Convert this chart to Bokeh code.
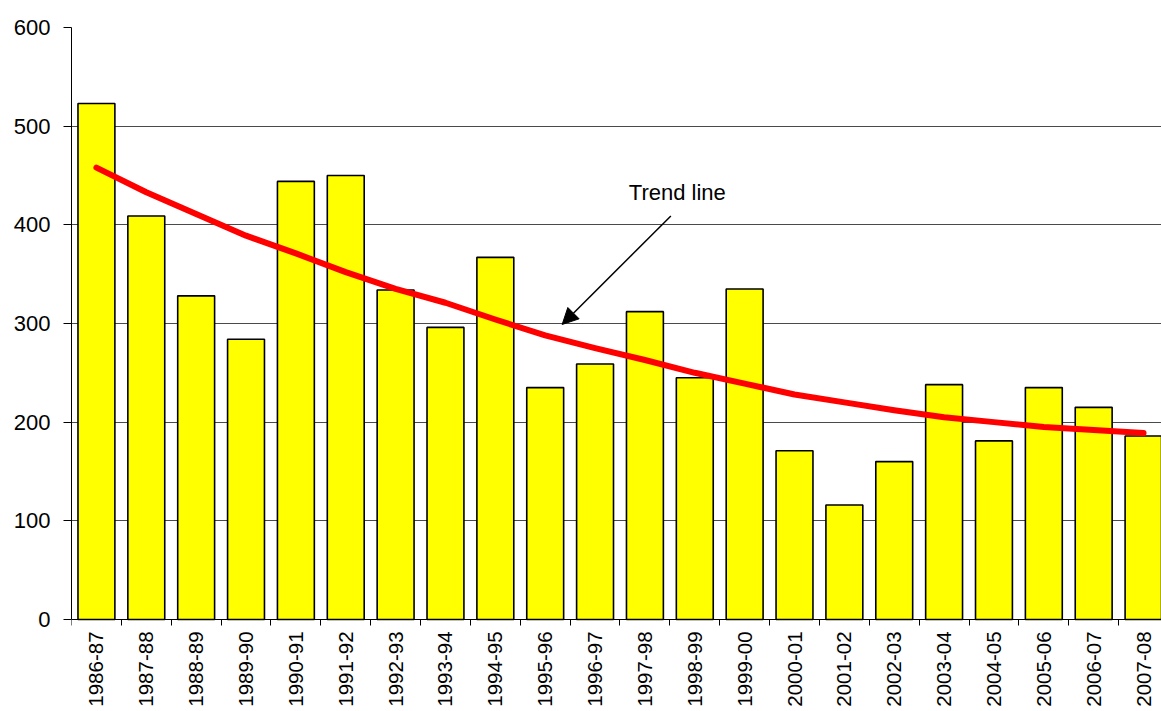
from bokeh.plotting import figure
from bokeh.models import Range1d, FixedTicker, Arrow, NormalHead, Label, ColumnDataSource
from bokeh.core.properties import value
from bokeh.embed import file_html
from bokeh.resources import INLINE
import math

# Seasons and yearly counts
seasons = ["1986-87", "1987-88", "1988-89", "1989-90", "1990-91", "1991-92",
           "1992-93", "1993-94", "1994-95", "1995-96", "1996-97", "1997-98",
           "1998-99", "1999-00", "2000-01", "2001-02", "2002-03", "2003-04",
           "2004-05", "2005-06", "2006-07", "2007-08"]
counts = [523, 409, 328, 284, 444, 450, 334, 296, 367, 235, 259, 312,
          245, 335, 171, 116, 160, 238, 181, 235, 215, 186]
# Fitted trend at each season
trend = [458, 433, 411, 389, 371, 352, 335, 321, 304, 288, 275, 263,
         250, 239, 228, 220, 212, 205, 200, 195, 192, 189]
y_ticks = [0, 100, 200, 300, 400, 500, 600]

FONT = "Liberation Sans"

centers = [i + 0.5 for i in range(len(seasons))]
src = ColumnDataSource(dict(x=centers, season=seasons, count=counts, trend=trend))

# The frame runs down to the page edge; the area below zero holds the season labels
p = figure(width=1161, height=711, output_backend="svg", toolbar_location=None,
           x_range=Range1d(0, 21.86), y_range=Range1d(-93.3, 600),
           min_border_left=71, min_border_right=0, min_border_top=27,
           min_border_bottom=0)
p.outline_line_color = None
p.background_fill_color = "white"
p.border_fill_color = "white"

p.vbar(x="x", top="count", bottom=0, width=0.74, source=src,
       fill_color="#FFFF00", line_color="black", line_width=1.6)
p.line(x="x", y="trend", source=src, line_color="#FF0000", line_width=6,
       line_join="round", line_cap="round")

# Season labels, vertical, hanging below the zero line
p.text(x="x", y=0, text="season", source=src, y_offset=12,
       angle=math.pi / 2, text_align="right", text_baseline="middle",
       text_font=value(FONT), text_font_size="20.5px", text_color="black")

# y axis
p.yaxis.bounds = (0, 600)
p.yaxis.ticker = FixedTicker(ticks=y_ticks)
p.yaxis.major_tick_out = 8
p.yaxis.major_tick_in = 0
p.yaxis.minor_tick_out = 0
p.yaxis.minor_tick_in = 0
p.yaxis.major_label_standoff = 13
p.yaxis.major_label_text_font = FONT
p.yaxis.major_label_text_font_size = "22px"
p.yaxis.major_label_text_color = "black"
p.yaxis.axis_line_color = "black"
p.yaxis.major_tick_line_color = "black"

# x axis sits on zero, with ticks at the category boundaries
p.xaxis.fixed_location = 0
p.xaxis.ticker = FixedTicker(ticks=[], minor_ticks=list(range(len(seasons) + 1)))
p.xaxis.major_tick_out = 0
p.xaxis.major_tick_in = 0
p.xaxis.minor_tick_out = 6
p.xaxis.minor_tick_in = 0
p.xaxis.minor_tick_line_color = "black"
p.xaxis.major_label_standoff = 0
p.xaxis.major_label_text_font_size = "0px"
p.xaxis.axis_line_color = "black"

p.xgrid.visible = False
p.ygrid.ticker = FixedTicker(ticks=y_ticks[1:])
p.ygrid.grid_line_color = "#4a4a4a"
p.ygrid.grid_line_width = 1

# Trend-line callout
p.add_layout(Arrow(end=NormalHead(size=16, fill_color="black", line_color="black"),
                   x_start=12.02, y_start=409, x_end=9.84, y_end=299,
                   line_color="black", line_width=1.5))
p.add_layout(Label(x=12.15, y=433, text="Trend line", text_align="center",
                   text_baseline="alphabetic", text_font=FONT,
                   text_font_size="22px", text_color="black"))

open("out.html", "w").write(file_html(p, INLINE))
